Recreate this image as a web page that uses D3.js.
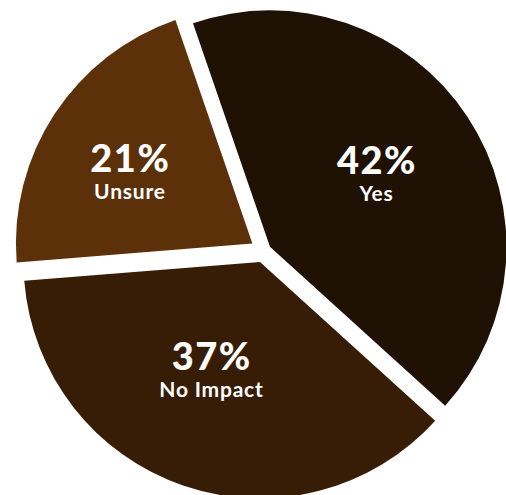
<!DOCTYPE html>
<html>
<head>
<meta charset="utf-8">
<script src="https://cdn.jsdelivr.net/npm/d3@7"></script>
<style>
  html, body { margin: 0; padding: 0; background: #ffffff; }
  svg { display: block; }
  text { font-family: Lato, "Noto Sans", sans-serif; fill: #ffffff; }
</style>
</head>
<body>
<svg id="chart" width="506" height="495"></svg>
<script>
// Survey answers, in drawing order (clockwise)
const categories = ["Yes", "No Impact", "Unsure"];
const shares = [42, 37, 21];
const sliceColors = ["#1f1104", "#381d06", "#5c310a"];

// Layout and styling
const width = 506, height = 495;
const cx = 263.7, cy = 251;
const radius = 236.5;
const startDeg = -19;
const explode = [7.5, 11.5, 13.5];      // outward shift of each slice
const labelRadius = [129, 119, 142];    // distance of label from the slice's own apex
const labelTurn = [-1.2, 5.5, -3.1];    // small angular nudge of each label, degrees
const pctSize = 38, nameSize = 21, lineGap = 27;
const pctSpacing = 1.5, nameSpacing = 0.8;

const rad = d => d * Math.PI / 180;

const svg = d3.select("#chart");

const pie = d3.pie()
  .sort(null)
  .value(d => d.value)
  .startAngle(rad(startDeg))
  .endAngle(rad(startDeg + 360));

const arc = d3.arc().innerRadius(0).outerRadius(radius);

const rows = categories.map((c, i) => ({ name: c, value: shares[i], i }));
const arcs = pie(rows);

const polar = (r, a) => [r * Math.sin(a), -r * Math.cos(a)];

const g = svg.append("g").attr("transform", `translate(${cx},${cy})`);

const slices = g.selectAll("g.slice")
  .data(arcs)
  .join("g")
  .attr("class", "slice")
  .attr("transform", d => {
    const mid = (d.startAngle + d.endAngle) / 2;
    const [dx, dy] = polar(explode[d.data.i], mid);
    return `translate(${dx},${dy})`;
  });

slices.append("path")
  .attr("d", arc)
  .attr("fill", d => sliceColors[d.data.i]);

slices.each(function(d) {
  const i = d.data.i;
  const mid = (d.startAngle + d.endAngle) / 2 + rad(labelTurn[i]);
  const [lx, ly] = polar(labelRadius[i], mid);
  const t = d3.select(this).append("g").attr("transform", `translate(${lx},${ly})`);
  t.append("text")
    .attr("text-anchor", "middle")
    .attr("x", pctSpacing / 2)
    .attr("font-size", pctSize)
    .attr("font-weight", 900)
    .attr("letter-spacing", pctSpacing)
    .text(`${d.data.value}%`);
  t.append("text")
    .attr("text-anchor", "middle")
    .attr("x", nameSpacing / 2)
    .attr("y", lineGap)
    .attr("font-size", nameSize)
    .attr("font-weight", 700)
    .attr("letter-spacing", nameSpacing)
    .text(d.data.name);
});
</script>
</body>
</html>
